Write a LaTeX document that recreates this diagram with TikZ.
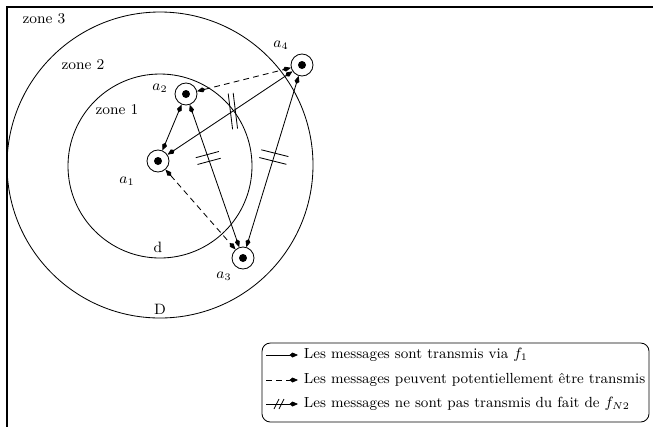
\documentclass[tikz,border=0pt]{standalone}
\usepackage{tikz}
\usetikzlibrary{positioning,arrows.meta,calc}

\begin{document}
\begin{tikzpicture}[x=0.6pt, y=-0.6pt, font=\small, line width=0.5pt,
  agent/.style={circle, draw, minimum size=13.2pt, inner sep=0pt, path picture={\fill (path picture bounding box.center) circle (2.4pt);}},
  msg/.style={{Kite[length=5pt,width=3pt,inset=1.6pt]}-{Kite[length=5pt,width=3pt,inset=1.6pt]}},
  maybe/.style={msg, dash pattern=on 3.5pt off 2.5pt},
  entry/.style={anchor=west, font=\fontsize{8.8pt}{10pt}\selectfont}]
\useasboundingbox (0,0) rectangle (653,427);
\draw[line width=0.7pt] (653,7) -- (7,7) -- (7,427);
% zones
\draw (160,165) circle[radius=153];
\draw (160,166) circle[radius=92];
\node (z3) at (44,19) {zone 3};
\node (z2) at (83,65) {zone 2};
\node (z1) at (117,110) {zone 1};
\node (rd) at (158,247) {d};
\node (rD) at (160,309) {D};
% agents
\node[agent] (a1) at (158,161) {};
\node[agent] (a2) at (186,94) {};
\node[agent] (a3) at (243,258) {};
\node[agent] (a4) at (302,65) {};
\node (la1) at (127,181) {$a_1$};
\node (la2) at (160,88) {$a_2$};
\node (la3) at (224,276) {$a_3$};
\node (la4) at (281,45) {$a_4$};
% messages
\draw[msg] (a1) -- (a2);
\draw[msg] (a1) -- (a4);
\draw[msg] (a2) -- (a3);
\draw[msg] (a4) -- (a3);
\draw[maybe] (a2) -- (a4);
\draw[maybe] (a1) -- (a3);
% cuts
\coordinate (c14) at ($(a1)!0.52!(a4)$);
\coordinate (c23) at ($(a2)!0.39!(a3)$);
\coordinate (c43) at ($(a4)!0.477!(a3)$);
\draw[shift={(c14)}, rotate=97] (-18,-2.5) -- (18,-2.5) (-18,2.5) -- (18,2.5);
\draw[shift={(c23)}, rotate=15] (-12,-3.5) -- (12,-3.5) (-12,3.5) -- (12,3.5);
\draw[shift={(c43)}, rotate=-14] (-14,-4) -- (14,-4) (-14,4) -- (14,4);
% legend
\node[draw, rounded corners=5pt, minimum width=232.2pt, minimum height=47.4pt, inner sep=0pt] (legend) at (455.5,382.5) {};
\node[entry] (l1) at (298,355) {Les messages sont transmis via $f_1$};
\node[entry] (l2) at (298,380) {Les messages peuvent potentiellement être transmis};
\node[entry] (l3) at (298,404) {Les messages ne sont pas transmis du fait de $f_{N2}$};
\coordinate (s1) at (266,355);
\coordinate (s2) at (266,380);
\coordinate (s3) at (266,404);
\draw[-{Kite[length=5pt,width=3pt,inset=1.6pt]}] (s1) -- (l1.west);
\draw[-{Kite[length=5pt,width=3pt,inset=1.6pt]}, dash pattern=on 3.5pt off 2.5pt] (s2) -- (l2.west);
\draw[-{Kite[length=5pt,width=3pt,inset=1.6pt]}] (s3) -- (l3.west);
\draw (274,409) -- (279,399) (279,409) -- (284,399);
\end{tikzpicture}
\end{document}
